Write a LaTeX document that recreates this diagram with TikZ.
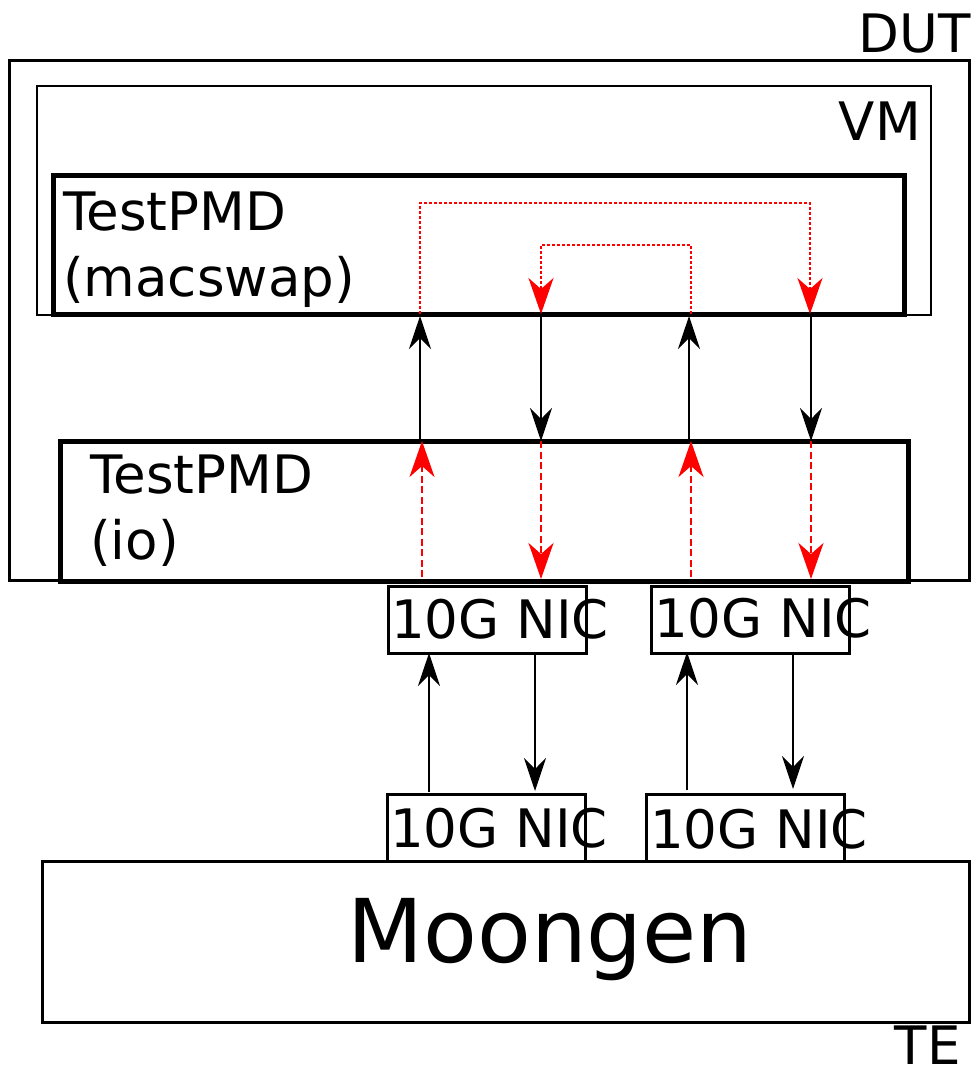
\documentclass[tikz,border=0pt]{standalone}
\usepackage{fontspec}
\setmainfont{DejaVu Sans}
\usetikzlibrary{arrows.meta}
\begin{document}
\begin{tikzpicture}[x=1pt,y=-1pt,
  lbl/.style={inner sep=0pt,font=\fontsize{53}{60}\selectfont},
  blk/.style={draw=black,line width=2pt,-{Stealth[length=33pt,width=22pt,inset=11pt]}},
  reddash/.style={draw=red,line width=2.5pt,dash pattern=on 7pt off 3.5pt,-{Stealth[length=36pt,width=25pt,inset=11pt,fill=red]}},
  reddot/.style={draw=red,line width=2pt,dash pattern=on 3pt off 2pt,-{Stealth[length=36pt,width=25pt,inset=11pt,fill=red]}},
  nic/.style={draw,line width=2.5pt,minimum width=198pt,minimum height=67pt,inner sep=0pt,anchor=north west}]
\useasboundingbox (0,0) rectangle (974,1072);
% boxes
\draw[line width=3pt] (9,60) rectangle (969,580);
\draw[line width=2pt] (37,86) rectangle (931,315);
\draw[line width=5pt] (53,175) rectangle (904,314);
\draw[line width=5pt] (60,441) rectangle (908,581);
\draw[line width=3pt] (42,861) rectangle (969,1022);
\node[nic] (n1) at (387,585) {};
\node[nic] (n2) at (650,585) {};
\node[nic] (n3) at (386,793) {};
\node[nic] (n4) at (645,793) {};
% labels
\node[lbl,anchor=base east] (dut) at (971,52) {DUT};
\node[lbl,anchor=base east] (vm) at (921,140) {VM};
\node[lbl,anchor=base west] (t1) at (63,230) {TestPMD};
\node[lbl,anchor=base west] (t2) at (63,296) {(macswap)};
\node[lbl,anchor=base west] (t3) at (90,493) {TestPMD};
\node[lbl,anchor=base west] (t4) at (90,559) {(io)};
\node[lbl,anchor=base west] at (391,638) {10G NIC};
\node[lbl,anchor=base west] at (654,637) {10G NIC};
\node[lbl,anchor=base west] at (390,847) {10G NIC};
\node[lbl,anchor=base west] at (650,848) {10G NIC};
\node[inner sep=0pt,anchor=base,font=\fontsize{88}{96}\selectfont] (moon) at (550,962) {Moongen};
\node[lbl,anchor=base east,text depth=0pt] (te) at (961,1064) {TE};
% coordinates
\coordinate (a1) at (420,441); \coordinate (a1t) at (420,316);
\coordinate (a2) at (541,314); \coordinate (a2b) at (541,441);
\coordinate (a3) at (689,441); \coordinate (a3t) at (689,316);
\coordinate (a4) at (811,314); \coordinate (a4b) at (811,441);
% black arrows macswap <-> io
\draw[blk] (a1) -- (a1t);
\draw[blk] (a2) -- (a2b);
\draw[blk] (a3) -- (a3t);
\draw[blk] (a4) -- (a4b);
% red dashed io <-> NIC
\draw[reddash] (422,577) -- (422,441);
\draw[reddash] (541,441) -- (541,579);
\draw[reddash] (691,577) -- (691,441);
\draw[reddash] (811,441) -- (811,579);
% red dotted inside macswap
\draw[reddot] (420,314) -- (420,203) -- (810,203) -- (810,314);
\draw[reddot] (691,314) -- (691,245) -- (541,245) -- (541,314);
% NIC to NIC
\draw[blk] (429,792) -- (429,653);
\draw[blk] (535,653) -- (535,791);
\draw[blk] (687,790) -- (687,652);
\draw[blk] (793,652) -- (793,789);
\end{tikzpicture}
\end{document}
